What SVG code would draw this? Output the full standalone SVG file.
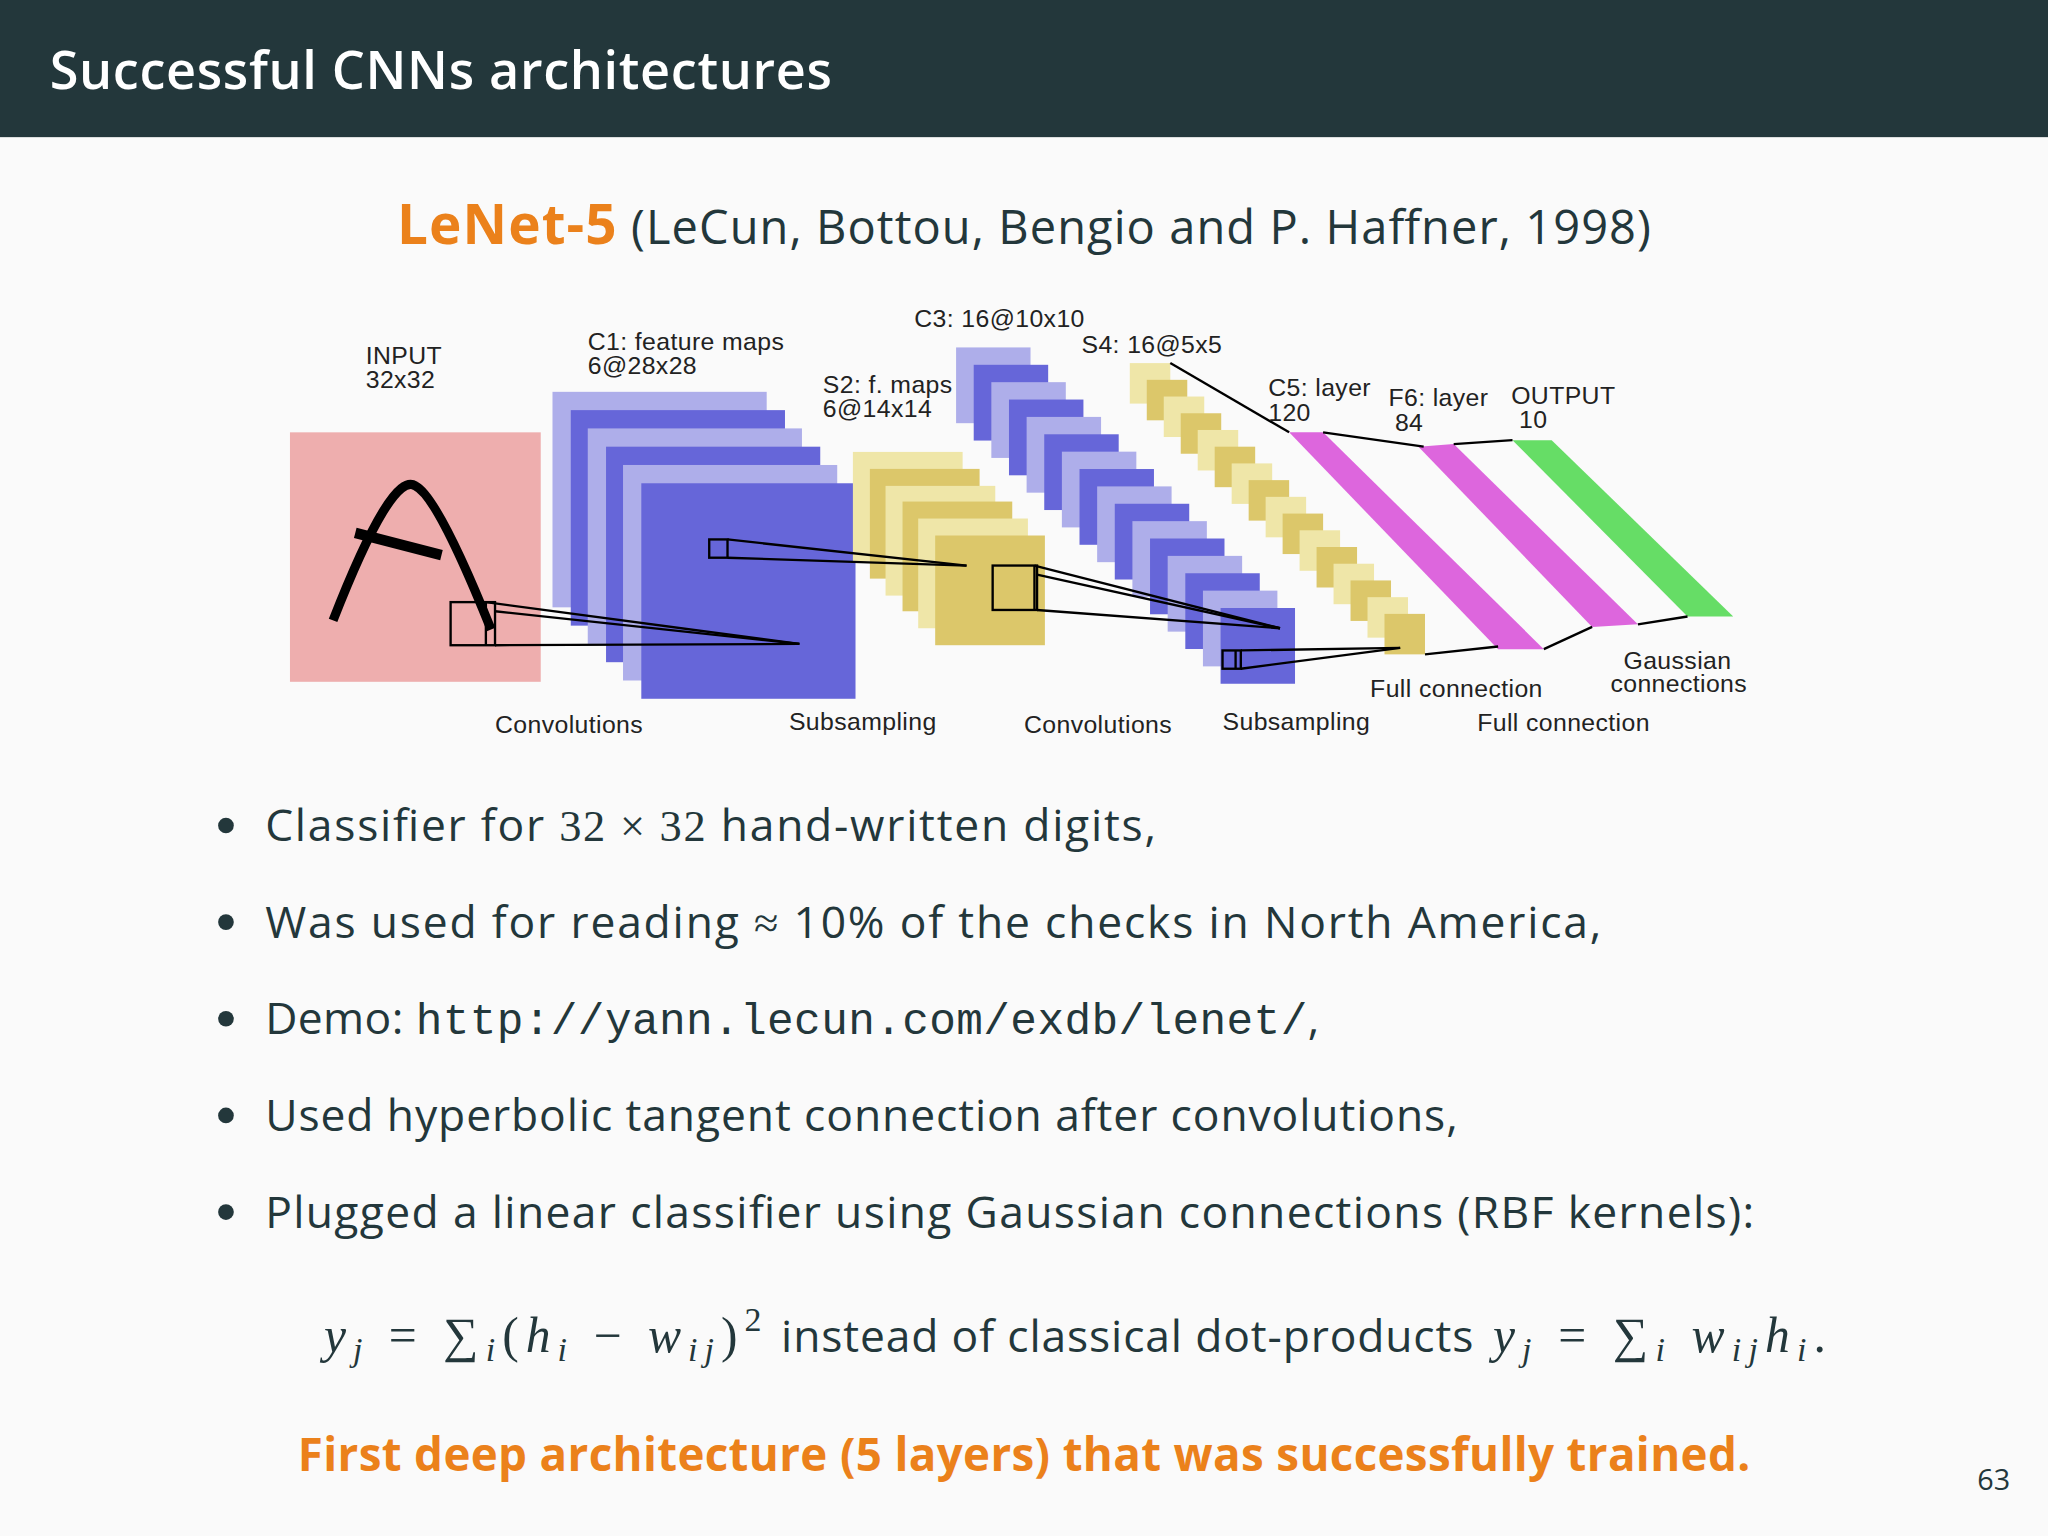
<svg xmlns="http://www.w3.org/2000/svg" width="2048" height="1536" viewBox="0 0 2048 1536">
<style>
.lbl{font-family:"Liberation Sans",Arial,sans-serif;font-size:19px;letter-spacing:0.3px;fill:#222}
.bt{font-family:"Open Sans","Noto Sans",sans-serif;font-size:34px;fill:#23373b}
.mt{font-family:"Liberation Serif","DejaVu Serif",serif;font-size:38px;fill:#23373b}
.m{font-style:italic}
.tt{font-family:"Liberation Mono","DejaVu Sans Mono",monospace}
.r{font-family:"Liberation Serif","DejaVu Serif",serif}
.lc{fill:#aeaeea}.dc{fill:#6666d9}.ly{fill:#efe6a8}.dy{fill:#dcc76a}
</style>
<rect width="2048" height="1536" fill="#fafafa"/>
<g transform="scale(1.306122)">
<g id="header">
<rect x="0" y="0" width="1568" height="105" fill="#23373b"/>
<text x="38" y="68" font-family="Open Sans,sans-serif" font-weight="600" font-size="40" fill="#fff" textLength="599" lengthAdjust="spacing">Successful CNNs architectures</text>
</g>
<g id="subtitle">
<text x="304" y="187" font-family="Open Sans,sans-serif" font-size="36" fill="#23373b" textLength="960" lengthAdjust="spacing"><tspan font-weight="700" font-size="42" fill="#eb811b">LeNet-5</tspan> (LeCun, Bottou, Bengio and P. Haffner, 1998)</text>
</g>
<g id="input">
<rect x="222" y="331" width="192" height="191" fill="#eeaeae"/>
<path d="M255,475 Q300,360 318,372 Q335,380 376,482" fill="none" stroke="#000" stroke-width="7"/>
<path d="M272,408 L338,425" stroke="#000" stroke-width="8"/>
</g>
<g id="c1">
<rect class="lc" x="423" y="300" width="164" height="165"/>
<rect class="dc" x="437" y="314" width="164" height="165"/>
<rect class="lc" x="450" y="328" width="164" height="165"/>
<rect class="dc" x="464" y="342" width="164" height="165"/>
<rect class="lc" x="477" y="356" width="164" height="165"/>
<rect class="dc" x="491" y="370" width="164" height="165"/>
</g>
<g id="s2">
<rect class="ly" x="653" y="346" width="84" height="84"/>
<rect class="dy" x="666" y="359" width="84" height="84"/>
<rect class="ly" x="678" y="372" width="84" height="84"/>
<rect class="dy" x="691" y="384" width="84" height="84"/>
<rect class="ly" x="703" y="397" width="84" height="84"/>
<rect class="dy" x="716" y="410" width="84" height="84"/>
</g>
<g id="c3">
<rect class="lc" x="732" y="266" width="57" height="58"/>
<rect class="dc" x="745.5" y="279.3" width="57" height="58"/>
<rect class="lc" x="759" y="292.6" width="57" height="58"/>
<rect class="dc" x="772.5" y="305.9" width="57" height="58"/>
<rect class="lc" x="786" y="319.2" width="57" height="58"/>
<rect class="dc" x="799.5" y="332.5" width="57" height="58"/>
<rect class="lc" x="813" y="345.8" width="57" height="58"/>
<rect class="dc" x="826.5" y="359.1" width="57" height="58"/>
<rect class="lc" x="840" y="372.4" width="57" height="58"/>
<rect class="dc" x="853.5" y="385.7" width="57" height="58"/>
<rect class="lc" x="867" y="399" width="57" height="58"/>
<rect class="dc" x="880.5" y="412.3" width="57" height="58"/>
<rect class="lc" x="894" y="425.6" width="57" height="58"/>
<rect class="dc" x="907.5" y="438.9" width="57" height="58"/>
<rect class="lc" x="921" y="452.2" width="57" height="58"/>
<rect class="dc" x="934.5" y="465.5" width="57" height="58"/>
</g>
<g id="s4">
<rect class="ly" x="865" y="278" width="31" height="31"/>
<rect class="dy" x="878" y="290.8" width="31" height="31"/>
<rect class="ly" x="891" y="303.6" width="31" height="31"/>
<rect class="dy" x="904" y="316.4" width="31" height="31"/>
<rect class="ly" x="917" y="329.2" width="31" height="31"/>
<rect class="dy" x="930" y="342" width="31" height="31"/>
<rect class="ly" x="943" y="354.8" width="31" height="31"/>
<rect class="dy" x="956" y="367.6" width="31" height="31"/>
<rect class="ly" x="969" y="380.4" width="31" height="31"/>
<rect class="dy" x="982" y="393.2" width="31" height="31"/>
<rect class="ly" x="995" y="406" width="31" height="31"/>
<rect class="dy" x="1008" y="418.8" width="31" height="31"/>
<rect class="ly" x="1021" y="431.6" width="31" height="31"/>
<rect class="dy" x="1034" y="444.4" width="31" height="31"/>
<rect class="ly" x="1047" y="457.2" width="31" height="31"/>
<rect class="dy" x="1060" y="470" width="31" height="31"/>
</g>
<g id="c5"><polygon points="987,331 1013,331 1182,497 1147,497" fill="#dd66dd"/></g>
<g id="f6"><polygon points="1086,342 1113,340 1254,478 1219,480" fill="#dd66dd"/></g>
<g id="output"><polygon points="1158,337 1188,337 1327,472 1292,472" fill="#66dd66"/></g>
<g id="connectors" stroke="#000" stroke-width="1.8" fill="none">
<rect x="345" y="461" width="34" height="33"/>
<line x1="372" y1="461" x2="372" y2="494"/>
<line x1="372" y1="461" x2="612" y2="493"/>
<line x1="379" y1="468" x2="612" y2="493"/>
<line x1="379" y1="494" x2="612" y2="493"/>
<rect x="543" y="413" width="14" height="14"/>
<line x1="557" y1="413" x2="740" y2="433"/>
<line x1="557" y1="427" x2="740" y2="433"/>
<rect x="760" y="433" width="34" height="34"/>
<line x1="792" y1="433" x2="792" y2="467"/>
<line x1="792" y1="433" x2="980" y2="481"/>
<line x1="794" y1="440" x2="980" y2="481"/>
<line x1="794" y1="467" x2="980" y2="481"/>
<rect x="936" y="498" width="14" height="14"/>
<line x1="946" y1="498" x2="946" y2="512"/>
<line x1="950" y1="498" x2="1072" y2="496"/>
<line x1="950" y1="512" x2="1072" y2="496"/>
<line x1="896" y1="278" x2="987" y2="331"/>
<line x1="1013" y1="331" x2="1090" y2="342"/>
<line x1="1113" y1="340" x2="1158" y2="337"/>
<line x1="1091" y1="501" x2="1147" y2="495"/>
<line x1="1182" y1="497" x2="1219" y2="480"/>
<line x1="1254" y1="478" x2="1292" y2="472"/>
</g>
<g id="labels">
<text class="lbl" x="280" y="279">INPUT</text><text class="lbl" x="280" y="297">32x32</text>
<text class="lbl" x="450" y="268">C1: feature maps</text><text class="lbl" x="450" y="286">6@28x28</text>
<text class="lbl" x="630" y="301">S2: f. maps</text><text class="lbl" x="630" y="319">6@14x14</text>
<text class="lbl" x="700" y="250">C3: 16@10x10</text>
<text class="lbl" x="828" y="270">S4: 16@5x5</text>
<text class="lbl" x="971" y="303">C5: layer</text><text class="lbl" x="971" y="322">120</text>
<text class="lbl" x="1063" y="311">F6: layer</text><text class="lbl" x="1068" y="330">84</text>
<text class="lbl" x="1157" y="309">OUTPUT</text><text class="lbl" x="1163" y="328">10</text>
<text class="lbl" x="1243" y="512">Gaussian</text><text class="lbl" x="1233" y="530">connections</text>
<text class="lbl" x="1049" y="534">Full connection</text>
<text class="lbl" x="379" y="561">Convolutions</text>
<text class="lbl" x="604" y="559">Subsampling</text>
<text class="lbl" x="784" y="561">Convolutions</text>
<text class="lbl" x="936" y="559">Subsampling</text>
<text class="lbl" x="1131" y="560">Full connection</text>
</g>
<g id="bullets">
<circle cx="173" cy="632" r="6" fill="#23373b"/>
<circle cx="173" cy="706" r="6" fill="#23373b"/>
<circle cx="173" cy="780" r="6" fill="#23373b"/>
<circle cx="173" cy="854" r="6" fill="#23373b"/>
<circle cx="173" cy="928" r="6" fill="#23373b"/>
<text class="bt" x="203" y="644" textLength="682" lengthAdjust="spacing">Classifier for <tspan class="r">32 × 32</tspan> hand-written digits,</text>
<text class="bt" x="203" y="718" textLength="1023" lengthAdjust="spacing">Was used for reading <tspan class="r">≈</tspan> 10% of the checks in North America,</text>
<text class="bt" x="203" y="792" textLength="807" lengthAdjust="spacing">Demo: <tspan class="tt">http://yann.lecun.com/exdb/lenet/</tspan>,</text>
<text class="bt" x="203" y="866" textLength="913" lengthAdjust="spacing">Used hyperbolic tangent connection after convolutions,</text>
<text class="bt" x="203" y="940" textLength="1140" lengthAdjust="spacing">Plugged a linear classifier using Gaussian connections (RBF kernels):</text>
</g>
<g id="formula">
<text class="mt" x="248" y="1035" textLength="335" lengthAdjust="spacing"><tspan class="m">y</tspan><tspan class="m" font-size="26" dy="7">j</tspan><tspan dy="-7"> = ∑</tspan><tspan class="m" font-size="26" dy="7">i</tspan><tspan dy="-7">(</tspan><tspan class="m">h</tspan><tspan class="m" font-size="26" dy="7">i</tspan><tspan dy="-7"> − </tspan><tspan class="m">w</tspan><tspan class="m" font-size="26" dy="7">ij</tspan><tspan dy="-7">)</tspan><tspan font-size="26" dy="-16">2</tspan></text>
<text class="bt" x="598" y="1035" textLength="530" lengthAdjust="spacing">instead of classical dot-products</text>
<text class="mt" x="1143" y="1035" textLength="255" lengthAdjust="spacing"><tspan class="m">y</tspan><tspan class="m" font-size="26" dy="7">j</tspan><tspan dy="-7"> = ∑</tspan><tspan class="m" font-size="26" dy="7">i</tspan><tspan class="m" dy="-7"> w</tspan><tspan class="m" font-size="26" dy="7">ij</tspan><tspan class="m" dy="-7">h</tspan><tspan class="m" font-size="26" dy="7">i</tspan><tspan dy="-7">.</tspan></text>
</g>
<g id="footer">
<text x="228" y="1126" font-family="Open Sans,sans-serif" font-weight="700" font-size="35" fill="#eb811b" textLength="1112" lengthAdjust="spacing">First deep architecture (5 layers) that was successfully trained.</text>
<text x="1539" y="1141" text-anchor="end" font-family="Open Sans,sans-serif" font-size="22" fill="#23373b">63</text>
</g>
</g>
</svg>
